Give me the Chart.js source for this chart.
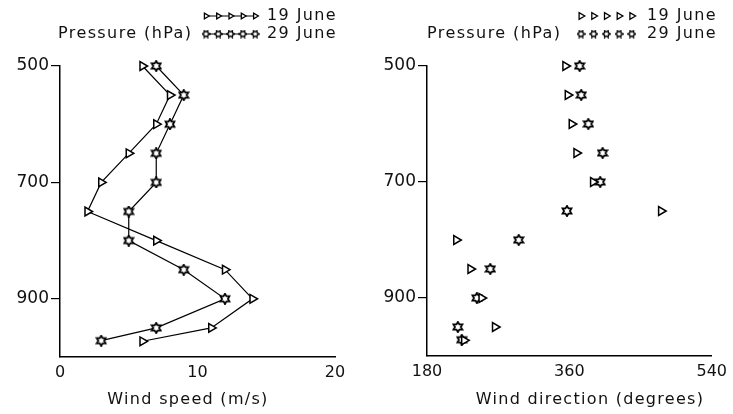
<!DOCTYPE html>
<html>
<head>
<meta charset="utf-8">
<script src="https://cdn.jsdelivr.net/npm/chart.js@4.4.1/dist/chart.umd.min.js"></script>
<style>
  html, body { margin: 0; padding: 0; background: #fff; }
  .row { display: flex; width: 733px; height: 414px; }
  canvas { display: block; }
</style>
</head>
<body>
<div class="row">
  <canvas id="speedChart" width="366" height="414"></canvas>
  <canvas id="dirChart" width="367" height="414"></canvas>
</div>
<script>
// sounding levels (hPa), the last one is the surface
const pressure19 = [500, 550, 600, 650, 700, 750, 800, 850, 900, 950, 973];
const pressure29 = [500, 550, 600, 650, 700, 750, 800, 850, 900, 950, 972];

// wind speed (m/s)
const speed19 = [6, 8, 7, 5, 3, 2, 7, 12, 14, 11, 6];
const speed29 = [7, 9, 8, 7, 7, 5, 5, 9, 12, 7, 3];

// wind direction (degrees, >360 means wrapped past north)
const dir19 = [355, 358, 363, 369, 390, 476, 217, 235, 249, 266, 227];
const dir29 = [373, 375, 384, 402, 399, 357, 296, 260, 243, 219, 224];

const pressureTicks = [500, 700, 900];
const speedTicks = [0, 10, 20];
const dirTicks = [180, 360, 540];
const seriesLabels = ['19 June', '29 June'];

const FONT = '"DejaVu Sans", "Liberation Sans", sans-serif';
Chart.defaults.font.family = FONT;
Chart.defaults.color = '#111';

// hollow six-pointed star used as marker for the 29 June sounding
function makeStar(size, lw) {
  const c = document.createElement('canvas');
  c.width = c.height = size;
  const g = c.getContext('2d');
  const cx = size / 2, cy = size / 2;
  const ro = size / 2 - lw / 2;
  const ri = ro / Math.sqrt(3);
  g.beginPath();
  for (let i = 0; i < 12; i++) {
    const a = -Math.PI / 2 + i * Math.PI / 6;
    const r = i % 2 ? ri : ro;
    const px = cx + r * Math.cos(a), py = cy + r * Math.sin(a);
    if (i) g.lineTo(px, py); else g.moveTo(px, py);
  }
  g.closePath();
  g.fillStyle = '#fff';
  g.fill();
  g.strokeStyle = '#000';
  g.lineWidth = lw;
  g.lineJoin = 'miter';
  g.stroke();
  return c;
}
const starBig = makeStar(12, 1.8);
const starSmall = makeStar(9, 1.4);

const toPoints = (xs, ps) => xs.map((v, i) => ({ x: v, y: ps[i] }));

// header ("Pressure (hPa)" + marker rows) and the x axis title
const headerPlugin = {
  id: 'header',
  afterDraw(chart, args, opts) {
    const ctx = chart.ctx;
    ctx.save();
    ctx.font = '16px ' + FONT;
    ctx.letterSpacing = '1.4px';
    ctx.textBaseline = 'middle';
    ctx.fillStyle = '#111';
    ctx.fillText('Pressure (hPa)', opts.titleX, opts.rowY[1]);
    chart.data.datasets.forEach((ds, i) => {
      const y = opts.rowY[i];
      const xs = [0, 1, 2, 3, 4].map(k => opts.markX + k * opts.markGap);
      ctx.strokeStyle = '#000';
      ctx.lineWidth = 1;
      if (opts.joined) {
        ctx.beginPath();
        ctx.moveTo(xs[0], y);
        ctx.lineTo(xs[4], y);
        ctx.stroke();
      }
      ctx.fillStyle = '#fff';
      ctx.lineWidth = 1.3;
      const style = ds.pointStyle === 'triangle' ? 'triangle' : starSmall;
      xs.forEach(x => Chart.helpers.drawPoint(ctx, {
        pointStyle: style, rotation: 90, radius: opts.markR, borderWidth: 1.3
      }, x, y));
      ctx.fillStyle = '#111';
      ctx.fillText(ds.label, opts.textX, y);
    });

    ctx.font = '16px ' + FONT;
    ctx.letterSpacing = '1.3px';
    ctx.textAlign = 'center';
    ctx.fillText(opts.axisTitle, opts.axisTitleX, 400);
    ctx.restore();
  }
};

function pressureAxis(width) {
  return {
    type: 'linear',
    reverse: true,
    min: 500,
    max: 1000,
    afterBuildTicks: s => { s.ticks = pressureTicks.map(v => ({ value: v })); },
    afterFit: s => { s.width = width; },
    grid: { drawOnChartArea: false, drawTicks: true, tickLength: 9, color: '#000', lineWidth: 1.2 },
    border: { display: true, color: '#000', width: 1.5 },
    ticks: { color: '#111', font: { size: 17 }, padding: 2 }
  };
}

function bottomAxis(min, max, tickVals, height) {
  return {
    type: 'linear',
    min: min,
    max: max,
    afterBuildTicks: s => { s.ticks = tickVals.map(v => ({ value: v })); },
    afterFit: s => { s.height = height; },
    grid: { drawOnChartArea: false, drawTicks: false },
    border: { display: true, color: '#000', width: 1.5 },
    ticks: { color: '#111', font: { size: 16 }, padding: 6, maxRotation: 0 }
  };
}

function makeDatasets(x19, x29, joined) {
  return [
    {
      label: seriesLabels[0],
      data: toPoints(x19, pressure19),
      showLine: joined,
      clip: false,
      borderColor: '#000',
      borderWidth: 1.2,
      pointStyle: 'triangle',
      rotation: 90,
      pointRadius: 5,
      pointBorderColor: '#000',
      pointBackgroundColor: '#fff',
      pointBorderWidth: 1.5
    },
    {
      label: seriesLabels[1],
      data: toPoints(x29, pressure29),
      showLine: joined,
      clip: false,
      borderColor: '#000',
      borderWidth: 1.2,
      pointStyle: starBig,
      pointRadius: 5,
      pointBorderColor: '#000',
      pointBackgroundColor: '#fff'
    }
  ];
}

new Chart(document.getElementById('speedChart'), {
  type: 'scatter',
  data: { datasets: makeDatasets(speed19, speed29, true) },
  options: {
    responsive: false,
    animation: false,
    devicePixelRatio: 1,
    layout: { padding: { top: 66, right: 31, bottom: 0, left: 0 } },
    scales: {
      x: bottomAxis(0, 20, speedTicks, 57),
      y: pressureAxis(60)
    },
    plugins: {
      legend: { display: false },
      tooltip: { enabled: false },
      header: {
        titleX: 58, rowY: [16, 34], markX: 206, markGap: 12.3, markR: 3.2, textX: 267, joined: true,
        axisTitle: 'Wind speed (m/s)', axisTitleX: 188
      }
    }
  },
  plugins: [headerPlugin]
});

new Chart(document.getElementById('dirChart'), {
  type: 'scatter',
  data: { datasets: makeDatasets(dir19, dir29, false) },
  options: {
    responsive: false,
    animation: false,
    devicePixelRatio: 1,
    layout: { padding: { top: 66, right: 18, bottom: 0, left: 0 } },
    scales: {
      x: bottomAxis(180, 540, dirTicks, 58),
      y: pressureAxis(61)
    },
    plugins: {
      legend: { display: false },
      tooltip: { enabled: false },
      header: {
        titleX: 61, rowY: [16, 34], markX: 215, markGap: 12.7, markR: 3.8, textX: 281, joined: false,
        axisTitle: 'Wind direction (degrees)', axisTitleX: 224
      }
    }
  },
  plugins: [headerPlugin]
});
</script>
</body>
</html>
